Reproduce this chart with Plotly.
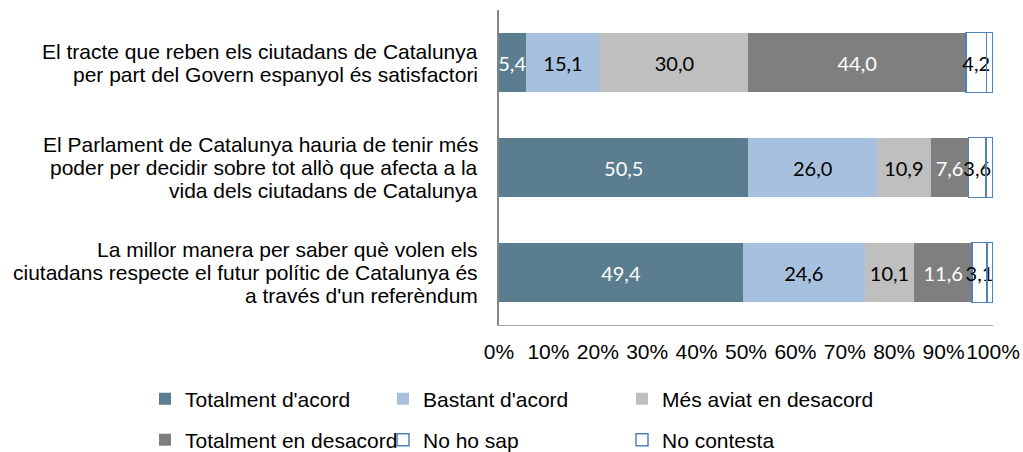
import plotly.graph_objects as go

categories = [
    "El tracte que reben els ciutadans de Catalunya<br>per part del Govern espanyol és satisfactori",
    "El Parlament de Catalunya hauria de tenir més<br>poder per decidir sobre tot allò que afecta a la<br>vida dels ciutadans de Catalunya",
    "La millor manera per saber què volen els<br>ciutadans respecte el futur polític de Catalunya és<br>a través d'un referèndum",
]
series_names = ["Totalment d'acord", "Bastant d'acord", "Més aviat en desacord",
                "Totalment en desacord", "No ho sap", "No contesta"]
totalment_acord = [5.4, 50.5, 49.4]
bastant_acord = [15.1, 26.0, 24.6]
mes_aviat_desacord = [30.0, 10.9, 10.1]
totalment_desacord = [44.0, 7.6, 11.6]
no_ho_sap = [4.2, 3.6, 3.1]
no_contesta = [1.3, 1.4, 1.2]
x_ticks = [0, 10, 20, 30, 40, 50, 60, 70, 80, 90, 100]
x_tick_labels = ["0%", "10%", "20%", "30%", "40%", "50%", "60%", "70%",
                 "80%", "90%", "100%"]

values = [totalment_acord, bastant_acord, mes_aviat_desacord,
          totalment_desacord, no_ho_sap, no_contesta]
fills = ["#5B7D90", "#A7C0DE", "#BFBFBF", "#7F7F7F",
         "rgba(255,255,255,0)", "rgba(255,255,255,0)"]
lines = [0, 0, 0, 0, 1.5, 1.5]
text_colors = ["#FFFFFF", "#000000", "#000000", "#FFFFFF", "#000000", "#000000"]
show_text = [True, True, True, True, True, False]
legend_ids = ["legend", "legend2", "legend3", "legend4", "legend5", "legend6"]
# legend placement (container pixels): left x, row centre y
legend_x = [145, 383, 622, 145, 383, 622]
legend_y = [399, 399, 399, 440, 440, 440]

LABEL_FONT = "Liberation Sans"
W, H = 1023, 452

fig = go.Figure()
for name, vals, fc, lw, tc, st, lg in zip(series_names, values, fills, lines,
                                          text_colors, show_text, legend_ids):
    fig.add_trace(go.Bar(
        name=name, y=categories, x=vals, orientation="h",
        marker=dict(color=fc, line=dict(color="#4F81BD", width=lw)),
        texttemplate="%{x:.1f}" if st else "",
        textposition="inside", insidetextanchor="middle",
        textangle=0, constraintext="none", cliponaxis=False,
        textfont=dict(family="Lato", size=20, color=tc),
        legend=lg, hoverinfo="skip",
    ))

# Category labels: centered multi-line text, right aligned block
line_h = 23
for cat in categories:
    parts = cat.split("<br>")
    n = len(parts)
    for i, p in enumerate(parts):
        fig.add_annotation(
            x=-0.038, xref="paper", xanchor="right",
            y=cat, yref="y", yanchor="middle",
            yshift=((n - 1) / 2 - i) * line_h,
            text=p, showarrow=False, align="center",
            font=dict(family=LABEL_FONT, size=21, color="#000000"),
        )

legend_layout = {}
for lg, lx, ly in zip(legend_ids, legend_x, legend_y):
    legend_layout[lg] = dict(
        orientation="h", xref="container", yref="container",
        x=lx / W, xanchor="left", y=1 - ly / H, yanchor="middle",
        font=dict(family=LABEL_FONT, size=21, color="#000000"),
        bgcolor="rgba(0,0,0,0)", itemwidth=30,
    )

fig.update_layout(
    width=W, height=H,
    margin=dict(l=499, r=30, t=10, b=127, autoexpand=False),
    barmode="stack", bargap=0.43,
    plot_bgcolor="white", paper_bgcolor="white",
    separators=", ",
    font=dict(family=LABEL_FONT, size=21, color="#000000"),
    showlegend=True,
    **legend_layout,
)
fig.update_xaxes(range=[0, 100], tickmode="array", tickvals=x_ticks,
                 ticktext=x_tick_labels, tickangle=0,
                 showgrid=False, zeroline=False, showline=True,
                 linecolor="#A6A6A6", linewidth=1, ticks="",
                 ticklabelstandoff=8,
                 tickfont=dict(family=LABEL_FONT, size=21, color="#000000"))
fig.update_yaxes(autorange="reversed", showticklabels=False, showgrid=False,
                 zeroline=False, showline=True, linecolor="#868686",
                 linewidth=2, ticks="")

fig.write_html("out.html", config={"displayModeBar": False},
               post_script="document.body.style.margin='0px';")
